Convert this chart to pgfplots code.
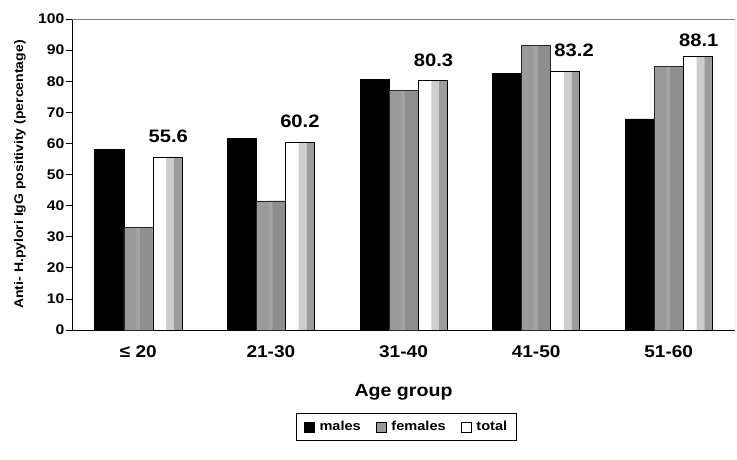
\documentclass[border=0pt]{standalone}
\usepackage{fontspec}
\setmainfont{Liberation Sans}[FakeStretch=1.12]
\usepackage{pgfplots}
\usepackage{pgfplotstable}
\pgfplotsset{compat=1.18}
\definecolor{femA}{HTML}{9A9A9A}
\definecolor{femB}{HTML}{A3A3A3}
\definecolor{femC}{HTML}{8E8E8E}
\definecolor{totL}{HTML}{CDCDCD}
\definecolor{totD}{HTML}{9C9C9C}
\pgfplotstableread{
grp males females total off xoff
0 58.2 33.1 55.6 14 1
1 61.6 41.5 60.2 15 0
2 80.7 77.1 80.3 13 1
3 82.5 91.6 83.2 14 9
4 67.9 84.7 88.1 9 1
}\datatable
\begin{document}
\begin{tikzpicture}
\begin{axis}[
  scale only axis,
  width=663pt, height=311pt,
  ybar=0pt, bar width=29pt,
  xmin=-0.5, xmax=4.5,
  ymin=0, ymax=100,
  ytick={0,10,...,100},
  xtick={0,1,2,3,4},
  xticklabels={{≤ 20},{21-30},{31-40},{41-50},{51-60}},
  extra x ticks={-0.5,0.5,1.5,2.5,3.5,4.5},
  extra x tick labels={},
  extra x tick style={major tick length=5pt, tick style={black, line width=0.8pt}},
  x tick style={draw=none},
  y tick style={black, line width=0.8pt},
  major tick length=6pt,
  tick align=outside,
  axis x line*=bottom, axis y line*=left,
  axis line style={-, black, line width=0.8pt},
  /pgf/number format/assume math mode=true,
  yticklabel style={font=\fontsize{14}{16}\selectfont\bfseries, inner sep=1.5pt},
  xticklabel style={font=\fontsize{17}{19}\selectfont\bfseries, yshift=-6pt},
  xlabel={Age group},
  xlabel style={font=\fontsize{17.5}{20}\selectfont\bfseries, at={(axis description cs:0.5,-0.199)}, anchor=center},
  ylabel={Anti- H.pylori IgG positivity (percentage)},
  ylabel style={font=\fontsize{12.5}{14}\selectfont\bfseries, at={(axis description cs:-0.0784,0.5)}, anchor=center, rotate=0},
  legend columns=3,
  legend style={at={(axis description cs:0.5045,-0.267)}, anchor=north, draw=black, line width=0.8pt,
    font=\fontsize{13}{15}\selectfont\bfseries, inner xsep=7pt, inner ysep=6pt,
    /tikz/every even column/.append style={column sep=13pt}},
  legend image code/.code={\draw[#1, line width=0.6pt] (0pt,-5pt) rectangle (10pt,5pt); \path (13pt,0pt);},
]
% males
\addplot[forget plot, fill=black, draw=black, line width=0.6pt, bar shift=-29pt] table[x=grp, y=males] {\datatable};
% females: base, stripes, outline
\addplot[forget plot, fill=femA, draw=none, bar shift=0pt] table[x=grp, y=females] {\datatable};
\addplot[forget plot, fill=femB, draw=none, bar width=4pt, bar shift=-0.3pt] table[x=grp, y=females] {\datatable};
\addplot[forget plot, fill=femC, draw=none, bar width=12.8pt, bar shift=8.1pt] table[x=grp, y=females] {\datatable};
\addplot[forget plot, fill=none, draw=black!85, line width=0.6pt, bar shift=0pt] table[x=grp, y=females] {\datatable};
% total: base, stripes, outline with labels
\addplot[forget plot, fill=white, draw=none, bar shift=29pt] table[x=grp, y=total] {\datatable};
\addplot[forget plot, fill=totL, draw=none, bar width=7.9pt, bar shift=31.75pt] table[x=grp, y=total] {\datatable};
\addplot[forget plot, fill=totD, draw=none, bar width=7.8pt, bar shift=39.6pt] table[x=grp, y=total] {\datatable};
\addplot[forget plot, fill=none, draw=black, line width=0.6pt, bar shift=29pt,
  visualization depends on={\thisrow{off} \as \myoff},
  visualization depends on={\thisrow{xoff} \as \myxoff},
  nodes near coords,
  nodes near coords style={font=\fontsize{18}{20}\selectfont\bfseries, anchor=south, inner sep=0pt,
    yshift=\myoff pt, xshift=\myxoff pt, /pgf/number format/fixed, /pgf/number format/precision=1,
    /pgf/number format/fixed zerofill, /pgf/number format/assume math mode=true},
] table[x=grp, y=total] {\datatable};
\addlegendimage{fill=black, draw=black}
\addlegendentry{males}
\addlegendimage{fill=femA, draw=black}
\addlegendentry{females}
\addlegendimage{fill=white, draw=black}
\addlegendentry{total}
\draw[gray, line width=0.8pt] (rel axis cs:0,1) -- (rel axis cs:1,1) -- (rel axis cs:1,0);
\end{axis}
\pgfresetboundingbox
\path ([shift={(-72pt,-129pt)}]current axis.south west) rectangle ([shift={(2pt,19pt)}]current axis.north east);
\end{tikzpicture}
\end{document}
